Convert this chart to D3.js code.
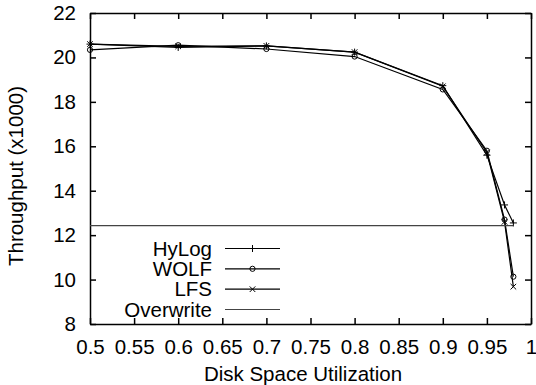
<!DOCTYPE html>
<html><head><meta charset="utf-8">
<script src="https://cdn.jsdelivr.net/npm/d3@7"></script>
<style>
html,body{margin:0;padding:0;background:#fff;}
text{font-family:"Liberation Sans",Arial,sans-serif;}
</style></head>
<body><svg id="c" width="536" height="385"></svg>
<script>
const xs = [0.5, 0.6, 0.7, 0.8, 0.9, 0.95, 0.97, 0.98];
const hylog = [20.6, 20.45, 20.52, 20.24, 18.73, 15.6, 13.36, 12.55];
const wolf  = [20.34, 20.55, 20.38, 20.04, 18.56, 15.8, 12.7, 10.13];
const lfs   = [20.6, 20.5, 20.52, 20.24, 18.7, 15.72, 12.6, 9.68];
const overwrite = [12.43, 12.43, 12.43, 12.43, 12.43, 12.43, 12.43, 12.43];
const xTicks = [0.5,0.55,0.6,0.65,0.7,0.75,0.8,0.85,0.9,0.95,1];
const xTickLabels = ["0.5","0.55","0.6","0.65","0.7","0.75","0.8","0.85","0.9","0.95","1"];
const yTicks = [8,10,12,14,16,18,20,22];
const seriesNames = ["HyLog","WOLF","LFS","Overwrite"];
const seriesMarkers = ["plus","circle","cross","none"];

const svg = d3.select("#c");
const L=90, R=531, T=13, B=324;
const x = d3.scaleLinear().domain([0.5,1]).range([L,R]);
const y = d3.scaleLinear().domain([8,22]).range([B,T]);
const fs = 20.5;

const tl = 6;
const gB = svg.append("g").attr("transform",`translate(0,${B})`)
  .call(d3.axisBottom(x).tickValues(xTicks).tickFormat((d,i)=>xTickLabels[i]).tickSizeInner(-tl).tickSizeOuter(0).tickPadding(15));
const gT = svg.append("g").attr("transform",`translate(0,${T})`)
  .call(d3.axisTop(x).tickValues(xTicks).tickFormat("").tickSizeInner(-tl).tickSizeOuter(0));
const gL = svg.append("g").attr("transform",`translate(${L},0)`)
  .call(d3.axisLeft(y).tickValues(yTicks).tickFormat(d3.format("d")).tickSizeInner(-tl).tickSizeOuter(0).tickPadding(14));
const gR = svg.append("g").attr("transform",`translate(${R},0)`)
  .call(d3.axisRight(y).tickValues(yTicks).tickFormat("").tickSizeInner(-tl).tickSizeOuter(0));
[gB,gT,gL,gR].forEach(g=>{
  g.select(".domain").attr("stroke","#000").attr("stroke-width",1.5);
  g.selectAll(".tick line").attr("stroke","#000").attr("stroke-width",1.5);
  g.selectAll("text").attr("font-size",fs).attr("font-family","Liberation Sans, Arial, sans-serif").attr("fill","#000");
});
gB.selectAll(".tick text").attr("dy","0.71em");

svg.append("text").attr("x",303).attr("y",381).attr("text-anchor","middle").attr("font-size",fs).text("Disk Space Utilization");
svg.append("text").attr("transform","translate(23,176) rotate(-90)").attr("text-anchor","middle").attr("font-size",fs).text("Throughput (x1000)");

function marker(g, type, cx, cy){
  if(type==="plus"){
    g.append("path").attr("d",`M${cx-3.5},${cy}H${cx+3.5}M${cx},${cy-3.5}V${cy+3.5}`).attr("stroke","#000").attr("stroke-width",1);
  } else if(type==="circle"){
    g.append("circle").attr("cx",cx).attr("cy",cy).attr("r",2.6).attr("fill","none").attr("stroke","#000").attr("stroke-width",1);
  } else if(type==="cross"){
    g.append("path").attr("d",`M${cx-2.8},${cy-2.8}L${cx+2.8},${cy+2.8}M${cx-2.8},${cy+2.8}L${cx+2.8},${cy-2.8}`).attr("stroke","#000").attr("stroke-width",1);
  }
}

const data = [hylog, wolf, lfs, overwrite];
const colors = ["#000","#000","#000","#444"];
const widths = [1.2,1.2,1.2,1.2];
const line = d3.line().x((d,i)=>x(xs[i])).y(d=>y(d));
const plot = svg.append("g");
data.forEach((s,k)=>{
  plot.append("path").datum(s).attr("d",line).attr("fill","none").attr("stroke",colors[k]).attr("stroke-width",widths[k]);
  s.forEach((v,i)=>marker(plot, seriesMarkers[k], x(xs[i]), y(v)));
});

const lg = svg.append("g");
const rows = [248.5, 268.8, 289.2, 309.5];
seriesNames.forEach((n,k)=>{
  lg.append("text").attr("x",212).attr("y",rows[k]).attr("dy","0.35em").attr("text-anchor","end").attr("font-size",fs).text(n);
  lg.append("line").attr("x1",225).attr("x2",280).attr("y1",rows[k]).attr("y2",rows[k]).attr("stroke",colors[k]).attr("stroke-width",1.2);
  marker(lg, seriesMarkers[k], 252.5, rows[k]);
});
</script></body></html>
